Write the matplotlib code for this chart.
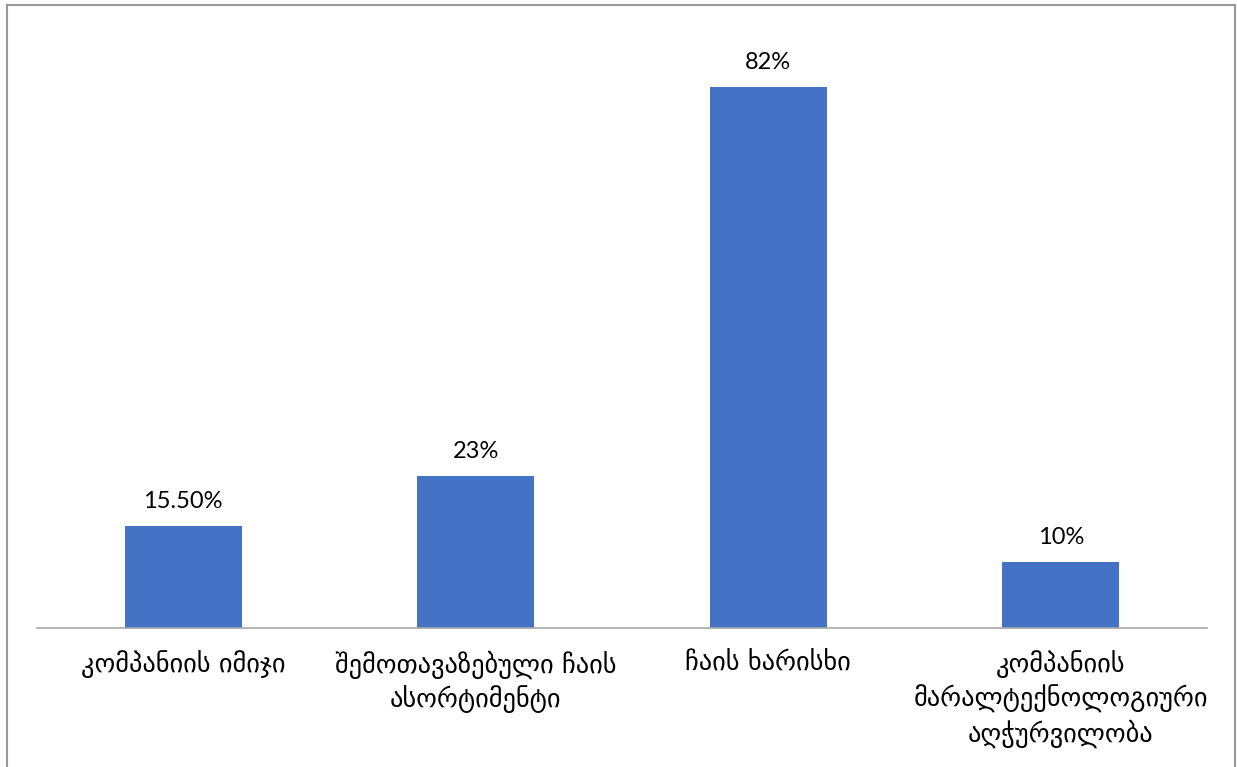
import matplotlib
matplotlib.use("Agg")
import matplotlib.pyplot as plt
from matplotlib.lines import Line2D

# მონაცემები
categories = [
    "კომპანიის იმიჯი",
    "შემოთავაზებული ჩაის\nასორტიმენტი",
    "ჩაის ხარისხი",
    "კომპანიის\nმარალტექნოლოგიური\nაღჭურვილობა",
]
values = [0.155, 0.23, 0.82, 0.10]
value_labels = ["15.50%", "23%", "82%", "10%"]

W, H = 1237, 767
fig = plt.figure(figsize=(W / 100, H / 100), dpi=100)
ax = fig.add_axes([37 / W, 1 - 628 / H, (1207 - 37) / W, (628 - 34) / H])

x = range(len(categories))
bars = ax.bar(x, values, width=0.4, color="#4472C4")

for b, lab in zip(bars, value_labels):
    ax.annotate(lab, (b.get_x() + b.get_width() / 2, b.get_height()),
                xytext=(0, 10), textcoords="offset points",
                ha="center", va="bottom", fontsize=17, family=["Lato", "DejaVu Sans"])

ax.set_xlim(-0.5, len(categories) - 0.5)
ax.set_ylim(0, 0.9)
ax.set_yticks([])
ax.set_xticks(list(x))
ax.set_xticklabels(categories, fontsize=19, family=["DejaVu Sans"], linespacing=1.3)
ax.tick_params(axis="x", length=0, pad=16)
for s in ["top", "right", "left"]:
    ax.spines[s].set_visible(False)
ax.spines["bottom"].set_color("#a6a6a6")
ax.spines["bottom"].set_linewidth(1.2)

# ჩარჩო სურათის გარშემო
frame_kw = dict(color="#999999", linewidth=1.5, transform=fig.transFigure)
left, right, top = 7.5 / W, 1235 / W, 1 - 4.5 / H
fig.add_artist(Line2D([left, right], [top, top], **frame_kw))
fig.add_artist(Line2D([left, left], [top, -0.01], **frame_kw))
fig.add_artist(Line2D([right, right], [top, -0.01], **frame_kw))

fig.savefig("out.png", dpi=100)
